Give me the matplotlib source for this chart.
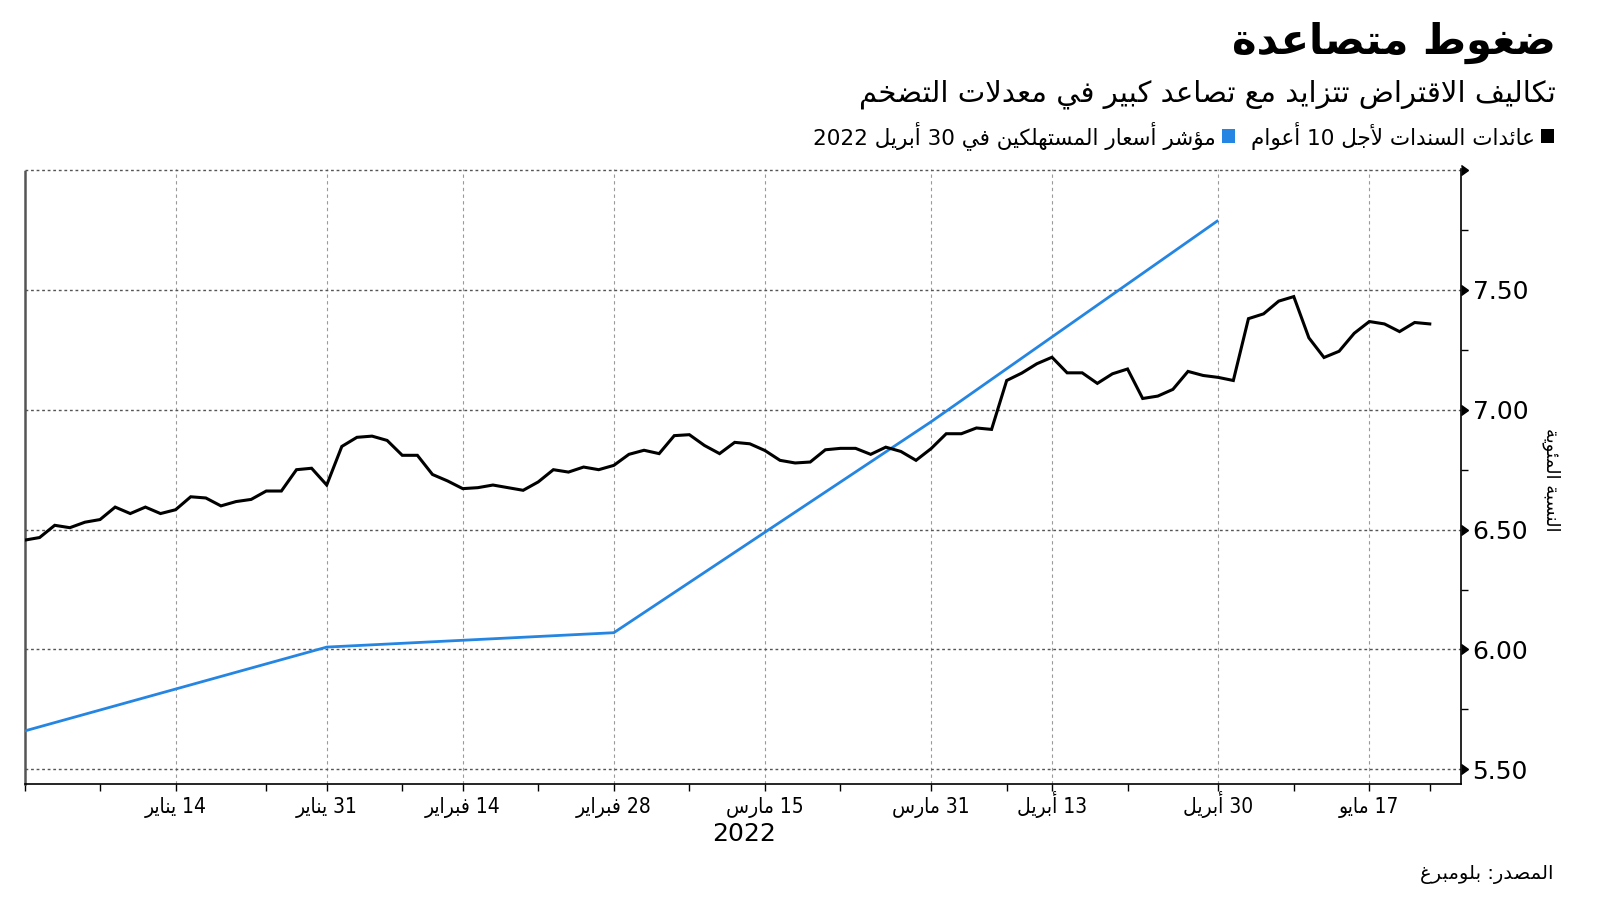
import re
import matplotlib
matplotlib.use("Agg")
import matplotlib.pyplot as plt
import matplotlib.transforms as mtransforms
from matplotlib.patches import Rectangle
from matplotlib.ticker import FixedLocator, MultipleLocator

# ---------------- data ----------------
# India 10-year bond yield, one value per trading day (index 0 = 31 Dec 2021)
yield_10y = [6.456, 6.467, 6.518, 6.508, 6.531, 6.542, 6.594, 6.567, 6.594, 6.567,
             6.583, 6.637, 6.632, 6.599, 6.617, 6.626, 6.661, 6.661, 6.750, 6.756,
             6.686, 6.847, 6.885, 6.890, 6.872, 6.810, 6.810, 6.730, 6.703, 6.671,
             6.675, 6.686, 6.675, 6.664, 6.699, 6.750, 6.740, 6.761, 6.750, 6.768,
             6.814, 6.831, 6.817, 6.892, 6.896, 6.851, 6.817, 6.864, 6.858, 6.830,
             6.789, 6.778, 6.782, 6.833, 6.839, 6.839, 6.814, 6.844, 6.826, 6.789,
             6.838, 6.900, 6.900, 6.924, 6.918, 7.122, 7.153, 7.192, 7.219, 7.154,
             7.154, 7.110, 7.150, 7.170, 7.047, 7.057, 7.085, 7.160, 7.143, 7.135,
             7.122, 7.380, 7.400, 7.453, 7.472, 7.300, 7.218, 7.244, 7.319, 7.368,
             7.358, 7.326, 7.364, 7.358]
# CPI inflation (monthly prints) placed on the trading-day index
cpi_idx = [0, 20, 39, 60, 79]
cpi_values = [5.66, 6.01, 6.07, 6.95, 7.79]

major_tick_idx = [10, 20, 29, 39, 49, 60, 68, 79, 89]
major_tick_labels = ["14 يناير", "31 يناير", "14 فبراير", "28 فبراير", "15 مارس",
                     "31 مارس", "13 أبريل", "30 أبريل", "17 مايو"]
minor_tick_idx = [0, 5, 16, 25, 34, 44, 54, 65, 73, 84, 93]
y_ticks = [5.5, 6.0, 6.5, 7.0, 7.5, 8.0]
y_tick_labels = ["5.50", "6.00", "6.50", "7.00", "7.50", ""]

title = "ضغوط متصاعدة"
subtitle = "تكاليف الاقتراض تتزايد مع تصاعد كبير في معدلات التضخم"
legend_labels = ["عائدات السندات لأجل 10 أعوام", "مؤشر أسعار المستهلكين في 30 أبريل 2022"]
y_label = "النسبة المئوية"
year_label = "2022"
source = "المصدر: بلومبرغ"

BLACK = "#000000"
BLUE = "#2585e2"

# ---------------- minimal Arabic shaping (presentation forms) ----------------
_TABLE = [("\u0621", 0xFE80, 1), ("\u0622", 0xFE81, 2), ("\u0623", 0xFE83, 2),
          ("\u0624", 0xFE85, 2), ("\u0625", 0xFE87, 2), ("\u0626", 0xFE89, 4),
          ("\u0627", 0xFE8D, 2), ("\u0628", 0xFE8F, 4), ("\u0629", 0xFE93, 2),
          ("\u062A", 0xFE95, 4), ("\u062B", 0xFE99, 4), ("\u062C", 0xFE9D, 4),
          ("\u062D", 0xFEA1, 4), ("\u062E", 0xFEA5, 4), ("\u062F", 0xFEA9, 2),
          ("\u0630", 0xFEAB, 2), ("\u0631", 0xFEAD, 2), ("\u0632", 0xFEAF, 2),
          ("\u0633", 0xFEB1, 4), ("\u0634", 0xFEB5, 4), ("\u0635", 0xFEB9, 4),
          ("\u0636", 0xFEBD, 4), ("\u0637", 0xFEC1, 4), ("\u0638", 0xFEC5, 4),
          ("\u0639", 0xFEC9, 4), ("\u063A", 0xFECD, 4), ("\u0641", 0xFED1, 4),
          ("\u0642", 0xFED5, 4), ("\u0643", 0xFED9, 4), ("\u0644", 0xFEDD, 4),
          ("\u0645", 0xFEE1, 4), ("\u0646", 0xFEE5, 4), ("\u0647", 0xFEE9, 4),
          ("\u0648", 0xFEED, 2), ("\u0649", 0xFEEF, 2), ("\u064A", 0xFEF1, 4)]
_FORMS = {c: (b, n) for c, b, n in _TABLE}
_LAMALEF = {"\u0622": 0xFEF5, "\u0623": 0xFEF7, "\u0625": 0xFEF9, "\u0627": 0xFEFB}


def _shape(text):
    units = []
    i = 0
    while i < len(text):
        c = text[i]
        if c == "\u0644" and i + 1 < len(text) and text[i + 1] in _LAMALEF:
            units.append(("LA", _LAMALEF[text[i + 1]], 2))
            i += 2
            continue
        if c in _FORMS:
            units.append(("L", _FORMS[c][0], _FORMS[c][1]))
        else:
            units.append(("O", c, 0))
        i += 1
    out = []
    for k, (kind, base, nf) in enumerate(units):
        if kind == "O":
            out.append(base)
            continue
        prev = units[k - 1] if k > 0 else None
        nxt = units[k + 1] if k + 1 < len(units) else None
        jp = prev is not None and prev[2] == 4
        jn = nf == 4 and nxt is not None and nxt[2] >= 2
        if nf == 1:
            off = 0
        elif nf == 2:
            off = 1 if jp else 0
        else:
            off = 3 if (jp and jn) else 1 if jp else 2 if jn else 0
        out.append(chr(base + off))
    return "".join(out)


def ar(text):
    s = _shape(text)
    tokens = re.findall(r"[0-9]+(?:[.,][0-9]+)*|.", s)
    return "".join(reversed(tokens))


plt.rcParams["font.family"] = ["DejaVu Sans"]

# ---------------- figure ----------------
W, H = 1600, 901
fig = plt.figure(figsize=(W / 100, H / 100), dpi=100)
ax = fig.add_axes([24.5 / W, 117.5 / H, (1461.5 - 24.5) / W, (783.5 - 169.3) / H])

x = list(range(len(yield_10y)))
ax.plot(cpi_idx, cpi_values, color=BLUE, lw=2.0, solid_capstyle="butt", zorder=3)
ax.plot(x, yield_10y, color=BLACK, lw=2.2, solid_joinstyle="miter", zorder=4)

ax.set_xlim(0, 95.1)
ax.set_ylim(5.441, 8.003)

# x axis
ax.xaxis.set_major_locator(FixedLocator(major_tick_idx))
ax.xaxis.set_minor_locator(FixedLocator(minor_tick_idx))
ax.set_xticklabels([ar(t) for t in major_tick_labels], fontsize=15, fontstretch="condensed")
ax.tick_params(axis="x", which="both", direction="out", length=5, width=1, color="black")
ax.tick_params(axis="x", which="major", pad=16)
for lbl in ax.get_xticklabels():
    lbl.set_verticalalignment("baseline")

# y axis on the right
ax.yaxis.tick_right()
ax.yaxis.set_label_position("right")
ax.yaxis.set_major_locator(FixedLocator(y_ticks))
ax.yaxis.set_minor_locator(MultipleLocator(0.25))
ax.set_yticklabels(y_tick_labels, fontsize=18)
ax.tick_params(axis="y", which="major", length=7, width=1, pad=1, color="black")
ax.tick_params(axis="y", which="minor", length=5, width=1, color="black")
for t in ax.yaxis.get_major_ticks():
    t.tick2line.set_marker(9)
    t.tick2line.set_markersize(7)
    t.tick2line.set_markerfacecolor("black")

# grid
ax.yaxis.grid(True, which="major", color="#555555", linestyle=(0, (2, 2)), linewidth=1.0)
ax.xaxis.grid(True, which="major", color="#9a9a9a", linestyle=(0, (3, 3)), linewidth=0.8)
ax.set_axisbelow(True)

ax.spines["top"].set_visible(False)
ax.spines["left"].set_color("#555555")
ax.spines["left"].set_linestyle((0, (1, 1)))
ax.spines["left"].set_linewidth(1.8)
ax.spines["bottom"].set_linewidth(1.2)
ax.spines["right"].set_linewidth(1.2)

# year label under axis
trans = mtransforms.blended_transform_factory(ax.transData, ax.transAxes)
ax.text(47.6, -0.082, year_label, transform=trans, ha="center", va="center", fontsize=18)

# y label
fig.text(1551 / W, 1 - 480 / H, ar(y_label), rotation=270, ha="center", va="center", fontsize=13)

# titles
RX = 1556 / W
fig.text(RX, 1 - 43 / H, ar(title), ha="right", va="center", fontsize=30, fontweight="heavy")
fig.text(RX, 1 - 94 / H, ar(subtitle), ha="right", va="center", fontsize=21)

# legend (right-to-left)
renderer = fig.canvas.get_renderer()
ly = 1 - 136 / H
sq = 13
xr = 1554.0
for lab, col in zip(legend_labels, [BLACK, BLUE]):
    fig.patches.append(Rectangle(((xr - sq) / W, ly - sq / 2 / H), sq / W, sq / H,
                                 transform=fig.transFigure, color=col, lw=0))
    xr -= sq + 6
    t = fig.text(xr / W, ly, ar(lab), ha="right", va="center", fontsize=15.5)
    bb = t.get_window_extent(renderer)
    xr = bb.x0 - 16

# source
fig.text(1554 / W, 1 - 875 / H, ar(source), ha="right", va="center", fontsize=14)

fig.savefig("out.png", dpi=100)
